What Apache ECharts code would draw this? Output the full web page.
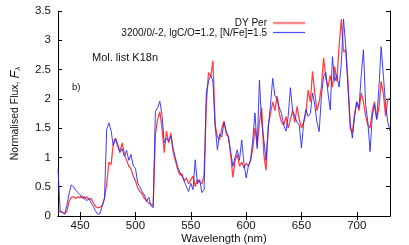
<!DOCTYPE html>
<html><head><meta charset="utf-8">
<script src="https://cdn.jsdelivr.net/npm/echarts@6/dist/echarts.min.js"></script>
<style>html,body{margin:0;padding:0;background:#fff}#c{width:409px;height:245px}</style>
</head><body><div id="c"></div>
<script>
const wavelength = [
430,432,434,436,438,440,442,444,446,448,
450,452,454,456,458,460,462,464,466,468,
470,472,474,476,478,480,482,484,486,488,
490,492,494,496,498,500,502,504,506,508,
510,512,514,516,518,520,522,524,526,528,
530,532,534,536,538,540,542,544,546,548,
550,552,554,556,558,560,562,564,566,568,
570,572,574,576,578,580,582,584,586,588,
590,592,594,596,598,600,602,604,606,608,
610,612,614,616,618,620,622,624,626,628,
630,632,634,636,638,640,642,644,646,648,
650,652,654,656,658,660,662,664,666,668,
670,672,674,676,678,680,682,684,686,688,
690,692,694,696,698,700,702,704,706,708,
710,712,714,716,718,720,722,724,726,728,
730];
const dyPer = [
0.10,0.07,0.06,0.04,0.08,0.25,0.32,0.33,0.30,0.33,
0.31,0.34,0.29,0.33,0.28,0.30,0.22,0.16,0.14,0.15,
0.18,0.30,0.55,0.92,0.88,1.25,1.33,1.22,1.10,1.25,
1.05,0.95,0.85,0.80,0.68,0.60,0.48,0.42,0.38,0.30,
0.26,0.22,0.20,0.17,1.40,1.65,1.78,1.50,1.08,1.45,
1.25,1.42,1.10,0.95,0.80,0.70,0.72,0.60,0.65,0.55,
0.62,0.68,0.50,0.62,0.58,0.55,0.70,1.90,2.45,2.38,
2.65,1.55,1.35,1.30,1.50,1.62,1.40,1.35,1.05,0.66,
0.95,1.05,0.85,0.92,0.82,0.90,0.85,0.95,1.15,1.50,
1.20,1.60,1.85,1.05,0.78,1.55,1.75,1.95,1.80,2.05,
1.75,1.60,1.55,1.70,1.50,1.65,1.80,1.60,1.87,1.65,
1.50,1.60,1.75,2.15,1.95,2.47,2.10,1.80,1.95,2.20,
2.70,2.35,2.20,2.40,2.20,2.55,2.30,2.90,3.36,2.80,
2.84,2.30,1.50,1.42,1.75,1.95,1.80,2.10,1.95,1.70,
1.55,1.50,1.80,1.95,1.65,1.85,2.30,2.10,1.70,2.00,
2.00];
const model = [
0.80,0.08,0.07,0.03,0.18,0.38,0.53,0.50,0.44,0.40,
0.36,0.30,0.33,0.26,0.30,0.22,0.16,0.08,0.03,0.04,
0.18,0.30,1.48,1.59,1.45,1.20,1.32,1.18,1.08,1.15,
1.02,1.12,0.95,1.05,0.85,0.82,0.56,0.50,0.42,0.36,
0.25,0.32,0.18,0.14,1.78,1.85,1.96,1.72,1.25,1.33,
1.28,1.36,1.15,1.00,0.85,0.75,0.68,0.60,0.50,0.42,
0.56,0.45,0.96,0.55,0.62,0.40,0.45,2.10,2.30,2.40,
2.30,1.55,1.13,1.40,1.35,1.60,1.45,1.35,1.10,0.85,
1.00,1.13,0.95,1.30,0.90,0.65,0.85,0.95,1.30,1.76,
1.15,2.32,1.60,1.30,0.95,1.50,1.90,2.35,2.05,2.00,
1.85,1.75,1.55,1.45,1.70,2.19,1.80,1.70,1.60,1.55,
1.16,1.60,1.82,1.70,1.75,2.10,1.90,1.60,1.44,2.04,
2.38,2.45,2.10,1.81,2.72,2.30,2.40,2.20,2.60,3.36,
2.90,2.20,1.60,1.33,1.70,1.95,1.85,2.40,2.84,1.90,
1.60,1.10,1.70,1.90,1.65,2.20,2.89,2.40,1.90,1.60,
1.45];
const xTicks = [450,500,550,600,650,700];
const seriesNames = ['DY Per','3200/0/-2, lgC/O=1.2, [N/Fe]=1.5'];

const FONT = '"Liberation Sans", Arial, sans-serif';
const pairs = v => wavelength.map((w,i)=>[w, v[i]]);
const tickStyle = {show:true, inside:true, length:4, lineStyle:{color:'#000', width:1}};
const chart = echarts.init(document.getElementById('c'), null, {renderer:'canvas'});
chart.setOption({
  animation:false,
  backgroundColor:'#fff',
  textStyle:{fontFamily:FONT},
  grid:{left:58, right:19, top:11, bottom:29, containLabel:false, outerBoundsMode:'none'},
  xAxis:[{
    type:'value', min:430, max:730, position:'bottom',
    axisLine:{show:true, lineStyle:{color:'#000', width:1}},
    axisTick:Object.assign({customValues:xTicks}, tickStyle),
    axisLabel:{customValues:xTicks, fontSize:11.5, color:'#111', margin:4, fontFamily:FONT},
    splitLine:{show:false},
    name:'Wavelength (nm)', nameLocation:'middle', nameGap:17, nameMoveOverlap:false,
    nameTextStyle:{fontSize:11.3, color:'#111', fontFamily:FONT}
  },{
    type:'value', min:430, max:730, position:'top',
    axisLine:{show:true, lineStyle:{color:'#000', width:1}},
    axisTick:Object.assign({customValues:xTicks}, tickStyle),
    axisLabel:{show:false}, splitLine:{show:false}
  }],
  yAxis:[{
    type:'value', min:0, max:3.5, interval:0.5, position:'left',
    axisLine:{show:true, lineStyle:{color:'#000', width:1}},
    axisTick:tickStyle,
    axisLabel:{fontSize:11.5, color:'#111', margin:7, fontFamily:FONT},
    splitLine:{show:false},
    name:'Normalised Flux, {f|F}{s|λ}', nameLocation:'middle', nameGap:36, nameRotate:90, nameMoveOverlap:false,
    nameTextStyle:{fontSize:10.5, color:'#111', fontFamily:FONT,
      rich:{f:{fontSize:13, fontStyle:'italic', color:'#111', fontFamily:FONT},
            s:{fontSize:8, fontStyle:'italic', color:'#111', verticalAlign:'bottom', padding:[6,0,0,0], fontFamily:FONT}}}
  },{
    type:'value', min:0, max:3.5, interval:0.5, position:'right',
    axisLine:{show:true, lineStyle:{color:'#000', width:1}},
    axisTick:tickStyle,
    axisLabel:{show:false}, splitLine:{show:false}
  }],
  graphic:[
    {type:'text', left:92, top:52, style:{text:'Mol. list K18n', font:'11px '+FONT, fill:'#111'}},
    {type:'text', left:72, top:82, style:{text:'b)', font:'9.5px '+FONT, fill:'#111'}},
    {type:'text', x:267, y:23.5, style:{text:seriesNames[0], font:'10px '+FONT, fill:'#111', align:'right', verticalAlign:'middle'}},
    {type:'text', x:267, y:33, style:{text:seriesNames[1], font:'10px '+FONT, fill:'#111', align:'right', verticalAlign:'middle'}},
    {type:'line', shape:{x1:273, y1:23, x2:305, y2:23}, style:{stroke:'#ff8a8a', lineWidth:2.5}},
    {type:'line', shape:{x1:273, y1:32.5, x2:305, y2:32.5}, style:{stroke:'#4a4aff', lineWidth:1.2}}
  ],
  series:[
    {name:seriesNames[0], type:'line', symbol:'none', data:pairs(dyPer),
     lineStyle:{color:'#ff2020', width:1.3, opacity:0.85}, itemStyle:{color:'#ff8a8a'}, z:2},
    {name:seriesNames[1], type:'line', symbol:'none', data:pairs(model),
     lineStyle:{color:'#2a2aff', width:1, opacity:0.9}, itemStyle:{color:'#4a4aff'}, z:3}
  ]
});
</script></body></html>
